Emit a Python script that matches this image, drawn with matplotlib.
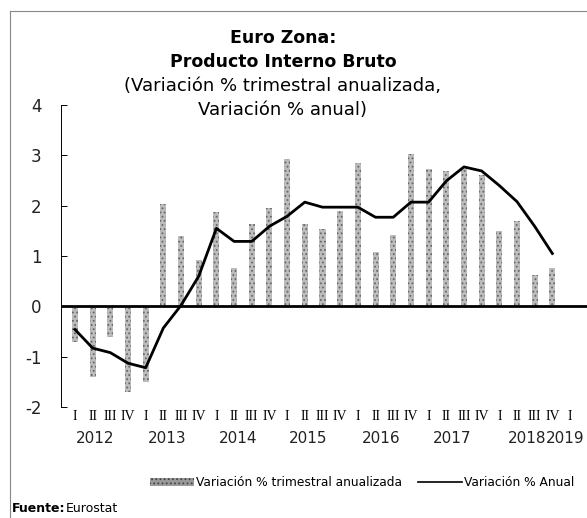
import matplotlib.pyplot as plt
from matplotlib.patches import Patch
from matplotlib.lines import Line2D

# datos trimestrales 2012 T1 - 2018 T4
trimestral = [-0.7, -1.4, -0.6, -1.7, -1.5, 2.04, 1.4, 0.93,
              1.87, 0.77, 1.64, 1.95, 2.93, 1.64, 1.53, 1.89,
              2.85, 1.07, 1.42, 3.03, 2.72, 2.68, 2.73, 2.6,
              1.5, 1.7, 0.62, 0.77]
anual = [-0.46, -0.83, -0.92, -1.13, -1.22, -0.43, 0.02, 0.6,
         1.55, 1.29, 1.29, 1.59, 1.79, 2.07, 1.97, 1.97,
         1.97, 1.77, 1.77, 2.07, 2.07, 2.49, 2.77, 2.69,
         2.4, 2.08, 1.59, 1.05]
trimestres = ["I", "II", "III", "IV"] * 7 + ["I"]
anios = ["2012", "2013", "2014", "2015", "2016", "2017", "2018", "2019"]
pos_anios = [1.15, 5.2, 9.25, 13.2, 17.3, 21.35, 25.6, 27.75]

plt.rcParams["hatch.linewidth"] = 0.8

fig = plt.figure(figsize=(5.87, 5.18), dpi=100)
ax = fig.add_axes([61 / 587, 111 / 518, 1 - 61 / 587, 302 / 518])

x = list(range(len(trimestral)))
ax.bar(x, trimestral, width=0.34, color="#bcbcbc", edgecolor="#666666",
       hatch="....", linewidth=0, zorder=2)
ax.plot(x, anual, color="black", linewidth=2, zorder=3)
ax.axhline(0, color="black", linewidth=2, zorder=4)

ax.set_xlim(-0.79, 28.96)
ax.set_ylim(-2, 4)
ax.set_yticks(range(-2, 5))
ax.set_yticklabels([str(v) for v in range(-2, 5)], fontsize=12, color="#222222")
ax.tick_params(axis="y", direction="in", length=4, width=0.7, pad=14)
ax.set_xticks(range(len(trimestres)))
ax.set_xticklabels(trimestres, fontsize=10, family="Liberation Serif")
ax.tick_params(axis="x", length=0, pad=2)
for s in ["top", "right", "bottom"]:
    ax.spines[s].set_visible(False)
ax.spines["left"].set_linewidth(0.7)

for p, a in zip(pos_anios, anios):
    ax.text(p, -0.105, a, transform=ax.get_xaxis_transform(), ha="center",
            va="center", fontsize=11, color="#222222")

fig.text(0.482, 0.927, "Euro Zona:", ha="center", va="center",
         fontsize=12.5, fontweight="bold")
fig.text(0.482, 0.880, "Producto Interno Bruto", ha="center", va="center",
         fontsize=12.5, fontweight="bold")
fig.text(0.482, 0.834, "(Variación % trimestral anualizada,", ha="center",
         va="center", fontsize=13)
fig.text(0.482, 0.788, "Variación % anual)", ha="center", va="center",
         fontsize=13)

handles = [Patch(facecolor="#9a9a9a", edgecolor="#444444", hatch="....",
                 linewidth=0, label="Variación % trimestral anualizada"),
           Line2D([], [], color="black", linewidth=1.2, label="Variación % Anual")]
fig.legend(handles=handles, loc="center", bbox_to_anchor=(0.617, 0.068),
           ncol=2, frameon=False, fontsize=8.8, handlelength=3.6,
           handletextpad=0.2, columnspacing=1.3)

fig.text(12 / 587, 1 - 508 / 518, "Fuente:", fontweight="bold", fontsize=9,
         va="center")
fig.text(66 / 587, 1 - 508 / 518, "Eurostat", fontsize=9, va="center")

# recuadro
fig.add_artist(Line2D([10 / 587, 10 / 587], [0, 1 - 11 / 518],
                      color="#888888", linewidth=0.8, transform=fig.transFigure))
fig.add_artist(Line2D([10 / 587, 1], [1 - 11 / 518, 1 - 11 / 518],
                      color="#888888", linewidth=0.8, transform=fig.transFigure))

fig.savefig("out.png", dpi=100)
